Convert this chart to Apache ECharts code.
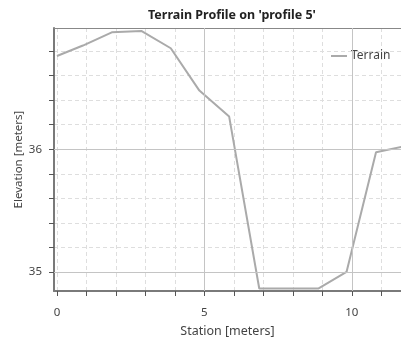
<!DOCTYPE html>
<html><head><meta charset="utf-8">
<script src="https://cdn.jsdelivr.net/npm/echarts@6/dist/echarts.min.js"></script>
<style>html,body{margin:0;padding:0;background:#fff}#c{width:401px;height:343px}</style>
</head><body><div id="c"></div>
<script>
const stations = [0, 0.88, 1.86, 2.86, 3.86, 4.83, 5.84, 6.86, 7.86, 8.86, 9.82, 10.82, 11.82];
const elevations = [36.76, 36.845, 36.953, 36.964, 36.823, 36.478, 36.266, 34.865, 34.865, 34.865, 35.0, 35.976, 36.025];
const xTicks = [0,1,2,3,4,5,6,7,8,9,10,11];
const xLabels = [0,5,10];
const xMajor = [5,10];
const yTicks = [35,35.2,35.4,35.6,35.8,36,36.2,36.4,36.6,36.8];
const yLabels = [35,36];
const yMajor = [35,36];
const FONT = 'Noto Sans';

const chart = echarts.init(document.getElementById('c'), null, {renderer:'canvas'});
chart.setOption({
  animation:false,
  textStyle:{fontFamily:FONT},
  title:{text:"Terrain Profile on 'profile 5'", left:143, top:4,
    textStyle:{fontFamily:FONT,fontSize:12.5,fontWeight:'bold',color:'#222'}},
  legend:{data:['Terrain'], left:331, top:50, padding:0, itemWidth:16, itemHeight:2, itemGap:4,
    icon:'rect',
    textStyle:{fontFamily:FONT,fontSize:12,color:'#444',padding:[0,0,0,-1]}},
  grid:{left:54, right:-6, top:28, bottom:52, containLabel:false},
  xAxis:[{
    type:'value', min:-0.1, max:11.667, position:'bottom',
    name:'Station [meters]', nameLocation:'middle', nameGap:34,
    nameTextStyle:{fontFamily:FONT,fontSize:12.5,color:'#444'},
    axisLine:{show:true,onZero:false,lineStyle:{color:'#7a7a7a',width:2}},
    axisTick:{show:true,inside:false,length:5,customValues:xTicks,lineStyle:{color:'#555',width:1}},
    axisLabel:{show:true,customValues:xLabels,margin:16,fontFamily:FONT,fontSize:11.5,color:'#444'},
    splitLine:{show:true,lineStyle:{color:'#dedede',type:[4,3],width:1}}
  },{
    type:'value', min:-0.1, max:11.667, position:'top',
    axisLine:{show:true,onZero:false,lineStyle:{color:'#888',width:1}},
    axisTick:{show:false}, axisLabel:{show:false}, splitLine:{show:false}
  }],
  yAxis:{
    type:'value', min:34.845, max:36.988,
    name:'Elevation [meters]', nameLocation:'middle', nameGap:29, nameRotate:90,
    nameMoveOverlap:false,
    nameTextStyle:{fontFamily:FONT,fontSize:11.5,color:'#444'},
    axisLine:{show:true,onZero:false,lineStyle:{color:'#7a7a7a',width:2}},
    axisTick:{show:true,inside:false,length:5,customValues:yTicks,lineStyle:{color:'#555',width:1}},
    axisLabel:{show:true,customValues:yLabels,margin:12,fontFamily:FONT,fontSize:11.5,color:'#444'},
    splitLine:{show:true,lineStyle:{color:'#dedede',type:[4,3],width:1}}
  },
  series:[{
    type:'line', name:'major', data:[], z:1, silent:true,
    markLine:{silent:true, symbol:'none', animation:false, label:{show:false},
      lineStyle:{color:'#c4c4c4',type:'solid',width:1},
      data:[...xMajor.map(v=>({xAxis:v})), ...yMajor.map(v=>({yAxis:v}))]}
  },{
    type:'line', name:'Terrain', z:3, symbol:'none', clip:true,
    data: stations.map((s,i)=>[s, elevations[i]]),
    lineStyle:{color:'#aaaaaa',width:2}, itemStyle:{color:'#aaaaaa'}
  }]
});
</script></body></html>
